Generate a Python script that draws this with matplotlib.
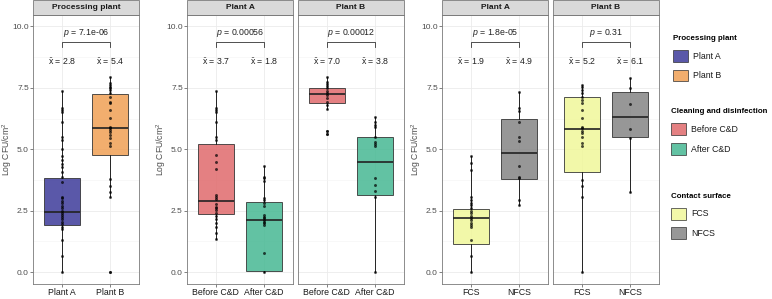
import matplotlib.pyplot as plt
from matplotlib.patches import Patch, Rectangle

plt.rcParams['font.family'] = ['Liberation Sans', 'DejaVu Sans']
plt.rcParams['mathtext.fontset'] = 'custom'
plt.rcParams['mathtext.rm'] = 'Liberation Sans'
plt.rcParams['mathtext.it'] = 'Liberation Sans:italic'

# ---- data ----
plant_labels = ['Plant A', 'Plant B']
plant_a_pts = [7.37, 6.67, 6.60, 6.50, 6.12, 5.51, 5.38, 5.00, 4.73, 4.57, 4.41, 4.27, 4.09,
               3.89, 3.68, 3.07, 3.01, 2.91, 2.80, 2.70, 2.60, 2.50, 2.42, 2.33, 2.26, 2.15,
               2.06, 1.96, 1.85, 1.75, 1.31, 0.67, 0.0]
plant_b_pts = [7.95, 7.68, 7.61, 7.54, 7.48, 7.41, 7.30, 7.14, 6.94, 6.87, 6.60, 6.29, 5.92,
               5.85, 5.78, 5.72, 5.58, 5.45, 5.24, 5.13, 3.80, 3.51, 3.26, 3.07, 0.0]
plant_q1 = [1.91, 4.77]
plant_med = [2.45, 5.88]
plant_q3 = [3.82, 7.25]
plant_lo = [0.0, 3.07]
plant_hi = [7.37, 7.95]
plant_fliers = [[], [0.0]]

cd_labels = ['Before C&D', 'After C&D']
cdA_before = [7.37, 6.67, 6.60, 6.50, 6.12, 5.51, 5.38, 4.77, 4.50, 4.20, 3.14, 3.05, 2.97,
              2.78, 2.67, 2.60, 2.53, 2.42, 2.29, 2.15, 2.02, 1.83, 1.59, 1.37]
cdA_after = [4.33, 3.89, 3.82, 3.71, 3.01, 2.94, 2.80, 2.70, 2.33, 2.26, 2.19, 2.13, 2.06,
             1.99, 1.92, 0.77, 0.0]
cdA_q1 = [2.37, 0.05]
cdA_med = [2.89, 2.11]
cdA_q3 = [5.22, 2.87]
cdA_lo = [1.37, 0.0]
cdA_hi = [7.37, 4.33]
cdA_fliers = [[], []]

cdB_before = [7.95, 7.75, 7.65, 7.57, 7.48, 7.38, 7.30, 7.21, 7.07, 6.94, 6.80, 6.64, 5.76, 5.62]
cdB_after = [6.33, 6.12, 5.99, 5.89, 5.49, 5.31, 5.22, 5.13, 3.82, 3.55, 3.32, 3.07, 0.0]
cdB_q1 = [6.89, 3.14]
cdB_med = [7.25, 4.50]
cdB_q3 = [7.50, 5.51]
cdB_lo = [6.64, 0.0]
cdB_hi = [7.95, 6.33]
cdB_fliers = [[5.76, 5.62], []]

cs_labels = ['FCS', 'NFCS']
csA_fcs = [4.73, 4.46, 4.16, 3.05, 2.94, 2.83, 2.74, 2.60, 2.50, 2.40, 2.29, 2.19, 2.13, 2.02,
           1.92, 1.83, 1.31, 0.66, 0.0]
csA_nfcs = [7.34, 6.67, 6.57, 6.12, 5.49, 5.35, 4.32, 3.89, 3.82, 2.94, 2.74]
csA_q1 = [1.15, 3.78]
csA_med = [2.19, 4.84]
csA_q3 = [2.56, 6.22]
csA_lo = [0.0, 2.74]
csA_hi = [4.73, 7.34]
csA_fliers = [[], []]

csB_fcs = [7.61, 7.52, 7.41, 7.28, 7.14, 7.00, 6.87, 6.60, 6.26, 5.92, 5.85, 5.76, 5.65, 5.51,
           5.24, 5.13, 3.75, 3.52, 3.05, 0.0]
csB_nfcs = [7.91, 7.50, 6.85, 5.81, 5.45, 3.25]
csB_q1 = [4.09, 5.51]
csB_med = [5.83, 6.33]
csB_q3 = [7.14, 7.34]
csB_lo = [0.0, 3.25]
csB_hi = [7.61, 7.91]
csB_fliers = [[], []]

p_texts = ['7.1e-06', '0.00056', '0.00012', '1.8e-05', '0.31']
mean_texts = [['2.8', '5.4'], ['3.7', '1.8'], ['7.0', '3.8'], ['1.9', '4.9'], ['5.2', '6.1']]
strip_titles = ['Processing plant', 'Plant A', 'Plant B', 'Plant A', 'Plant B']

col_plant = ['#3d3b9a', '#f0a055']
col_cd = ['#e06a6c', '#46b893']
col_cs = ['#f0f79a', '#858585']

facets = [
    (plant_labels, [plant_a_pts, plant_b_pts], plant_q1, plant_med, plant_q3, plant_lo, plant_hi, plant_fliers, col_plant),
    (cd_labels, [cdA_before, cdA_after], cdA_q1, cdA_med, cdA_q3, cdA_lo, cdA_hi, cdA_fliers, col_cd),
    (cd_labels, [cdB_before, cdB_after], cdB_q1, cdB_med, cdB_q3, cdB_lo, cdB_hi, cdB_fliers, col_cd),
    (cs_labels, [csA_fcs, csA_nfcs], csA_q1, csA_med, csA_q3, csA_lo, csA_hi, csA_fliers, col_cs),
    (cs_labels, [csB_fcs, csB_nfcs], csB_q1, csB_med, csB_q3, csB_lo, csB_hi, csB_fliers, col_cs),
]

# ---- layout (pixels of a 772x299 figure) ----
W, H = 772, 299
lefts = [33, 187, 298, 442, 553]
pw = 106
ptop, pbot = 15, 284
show_y = [True, True, False, True, False]

fig = plt.figure(figsize=(W / 100, H / 100), dpi=100)

for i, (labels, pts, q1, med, q3, lo, hi, fl, cols) in enumerate(facets):
    ax = fig.add_axes([lefts[i] / W, 1 - pbot / H, pw / W, (pbot - ptop) / H])

    stats = []
    for k in range(2):
        stats.append(dict(med=med[k], q1=q1[k], q3=q3[k], whislo=lo[k], whishi=hi[k], fliers=fl[k]))
    bp = ax.bxp(stats, positions=[1, 2], widths=0.75, patch_artist=True, showcaps=False,
                manage_ticks=False,
                boxprops=dict(edgecolor='#333333', lw=0.7),
                medianprops=dict(color='#222222', lw=1.2),
                whiskerprops=dict(color='#222222', lw=0.7),
                flierprops=dict(marker='o', markersize=2, markerfacecolor='black',
                                markeredgecolor='none', alpha=0.8))
    for patch, c in zip(bp['boxes'], cols):
        patch.set_facecolor(c)
        patch.set_alpha(0.85)
        patch.set_edgecolor('#333333')
    for k in range(2):
        ax.scatter([k + 1] * len(pts[k]), pts[k], s=4.5, color='black', alpha=0.7, lw=0, zorder=4)

    ax.set_xlim(0.4, 2.6)
    ax.set_ylim(-0.48, 10.46)
    ax.set_yticks([0, 2.5, 5, 7.5, 10])
    ax.set_yticks([1.25, 3.75, 6.25, 8.75], minor=True)
    ax.set_xticks([1, 2])
    ax.set_xticklabels(labels)
    ax.grid(True, which='major', color='#ebebeb', lw=0.6)
    ax.grid(True, which='minor', axis='y', color='#f4f4f4', lw=0.4)
    ax.set_axisbelow(True)
    ax.tick_params(which='minor', length=0)
    ax.tick_params(which='major', labelsize=6.3, colors='#4d4d4d', length=2, width=0.5, pad=1)
    ax.tick_params(axis='x', labelcolor='#1a1a1a')
    ax.tick_params(axis='y', labelsize=6.0)
    if show_y[i]:
        ax.set_yticklabels(['0.0', '2.5', '5.0', '7.5', '10.0'])
        ax.set_ylabel('Log CFU/cm$^2$', fontsize=6.2, color='#4d4d4d')
        ax.yaxis.set_label_coords(-0.18, 0.5)
    else:
        ax.tick_params(axis='y', left=False, labelleft=False)
    for s in ax.spines.values():
        s.set_color('#7a7a7a')
        s.set_linewidth(0.6)

    # significance bracket and means
    ax.plot([1, 1, 2, 2], [9.17, 9.37, 9.37, 9.17], color='#333333', lw=0.6)
    ax.text(1.5, 9.5, '$p$ = ' + p_texts[i], ha='center', va='bottom', fontsize=6.3, color='#222222')
    for k in range(2):
        ax.text(k + 1, 8.56, r'$\bar{\mathrm{x}}$ = ' + mean_texts[i][k], ha='center', va='center',
                fontsize=6.3, color='#222222')

    # facet strip
    ax.add_patch(Rectangle((0, 1), 1, 15 / (pbot - ptop), transform=ax.transAxes, clip_on=False,
                           facecolor='#d9d9d9', edgecolor='#7a7a7a', lw=0.6))
    ax.text(0.5, 1 + 7.5 / (pbot - ptop), strip_titles[i], transform=ax.transAxes, ha='center',
            va='center', fontsize=6.0, fontweight='bold', color='#1a1a1a')

# ---- legends ----
leg_specs = [
    ('Processing plant', plant_labels, col_plant, 0.883, 673),
    ('Cleaning and disinfection', cd_labels, col_cd, 0.638, 671),
    ('Contact surface', cs_labels, col_cs, 0.355, 671),
]
for title, labels, cols, ytop, xleft in leg_specs:
    handles = [Patch(facecolor=c, edgecolor='#333333', lw=0.6, alpha=0.85) for c in cols]
    leg = fig.legend(handles, labels, title=title, loc='upper left', bbox_to_anchor=(xleft / W, ytop),
                     frameon=False, fontsize=6.3, title_fontproperties={'weight': 'bold', 'size': 5.7},
                     handlelength=1.7, handleheight=1.7, labelspacing=0.9, handletextpad=0.6,
                     borderpad=0, borderaxespad=0, alignment='left')
    for t in leg.get_texts():
        t.set_color('#1a1a1a')

fig.savefig('out.png', dpi=100)
